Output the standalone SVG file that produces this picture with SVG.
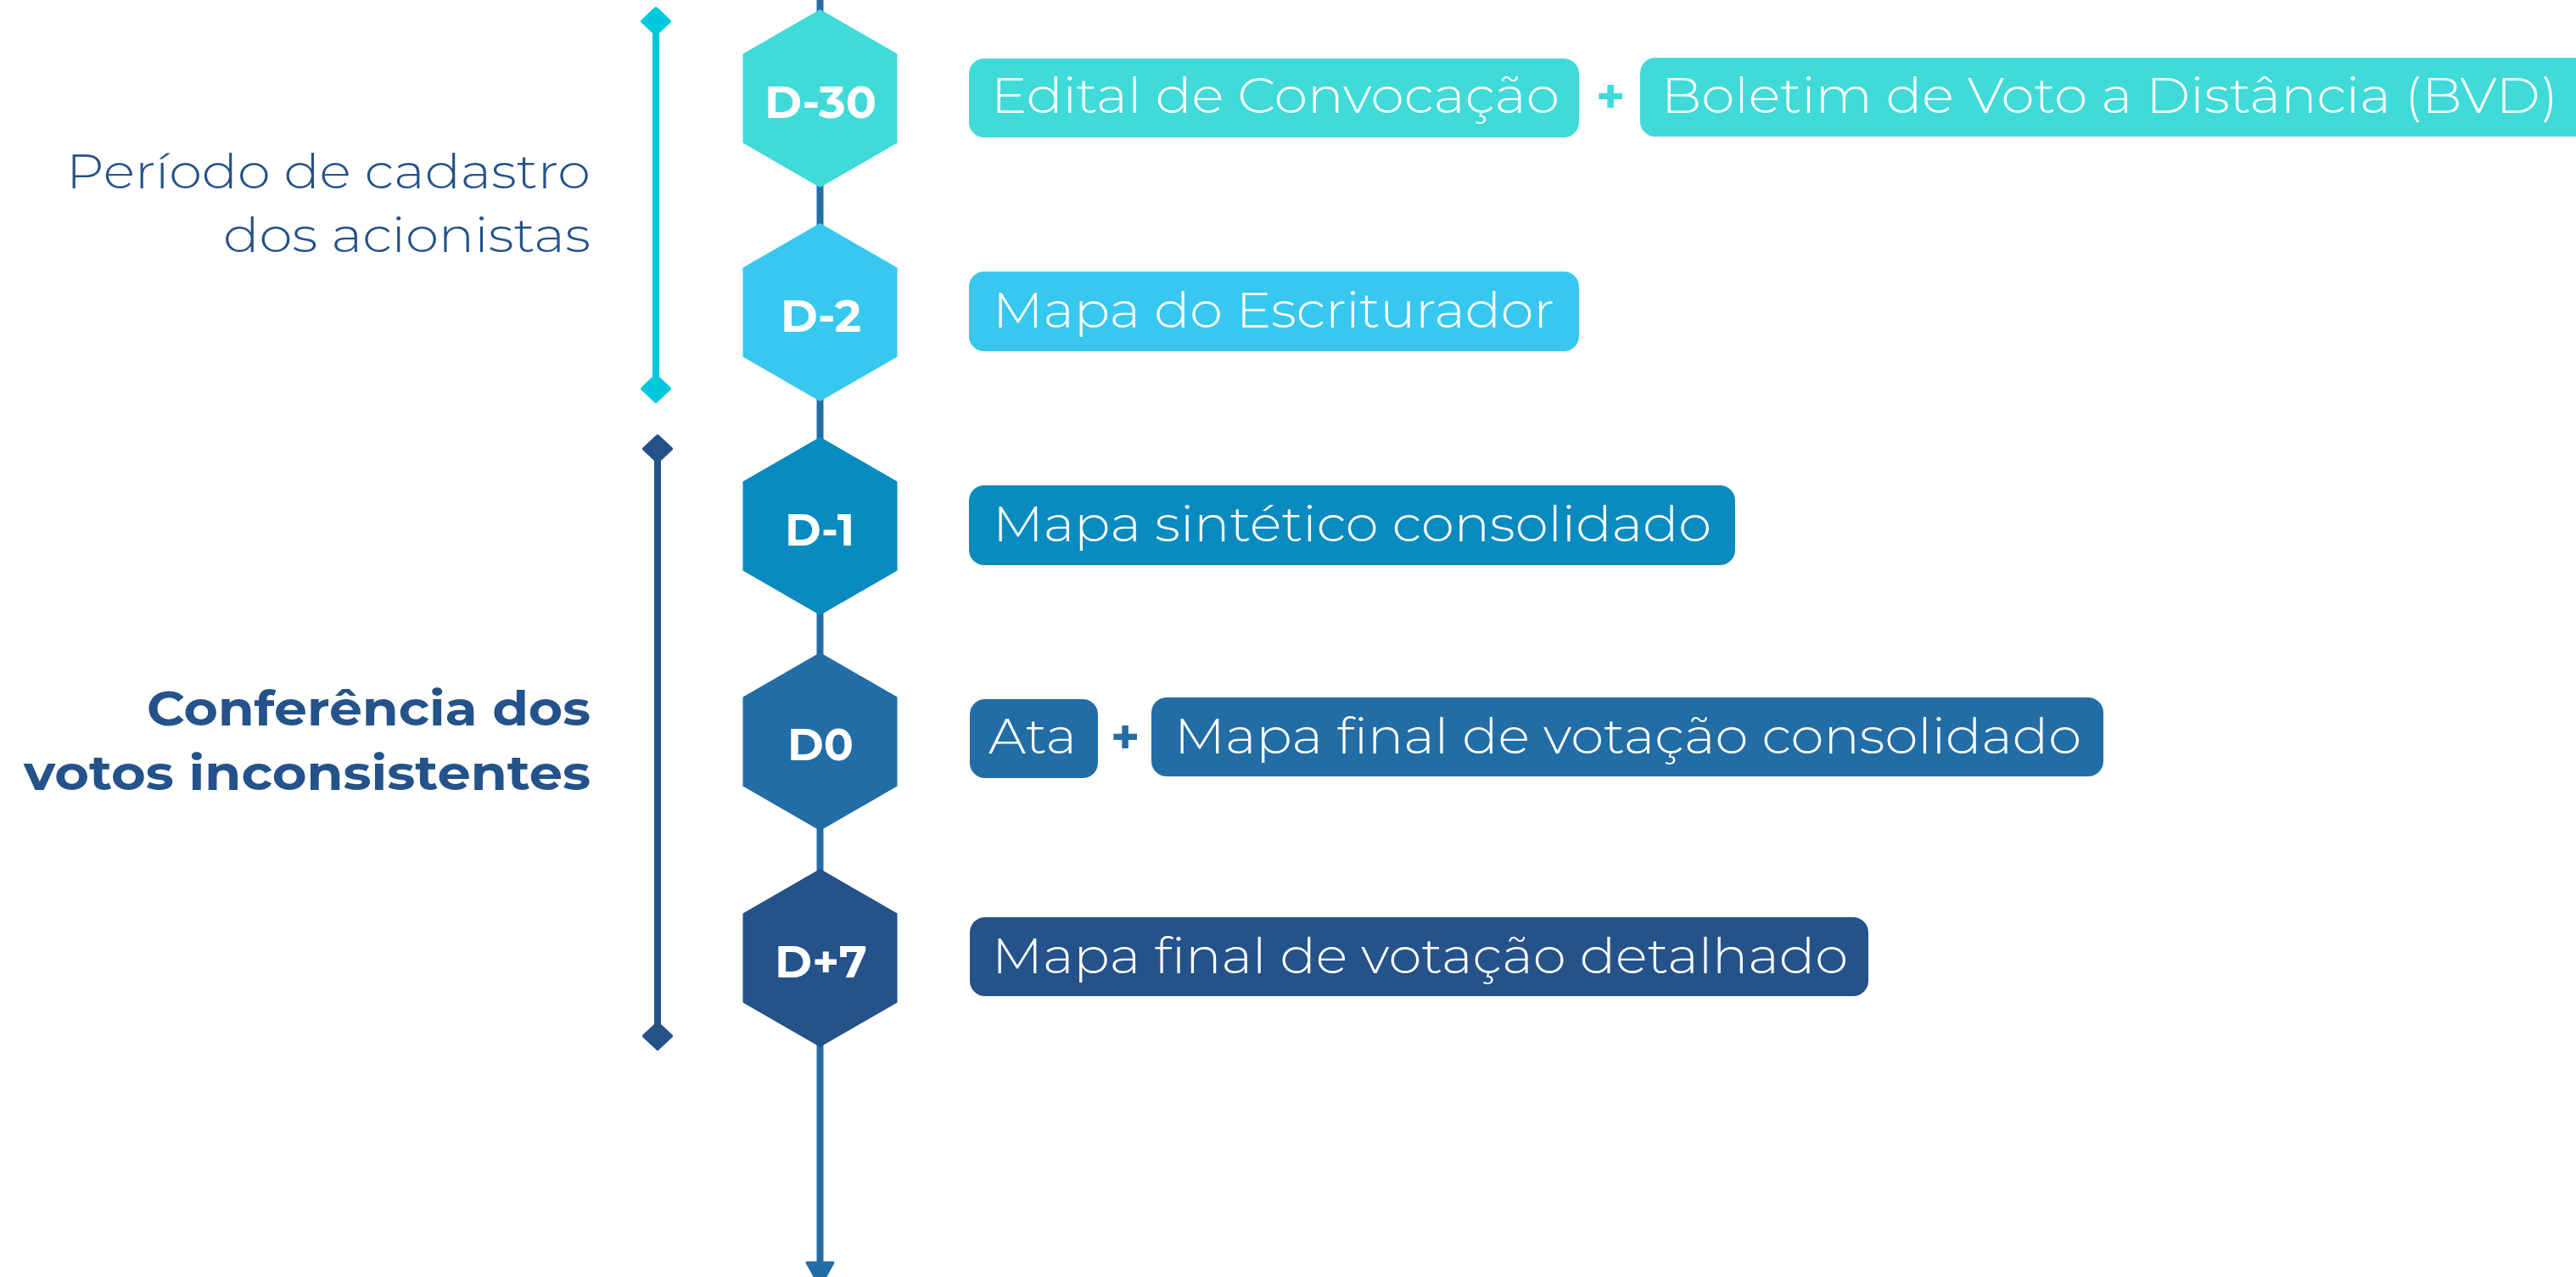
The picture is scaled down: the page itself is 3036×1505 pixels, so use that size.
<svg xmlns="http://www.w3.org/2000/svg" width="3036" height="1505" viewBox="0 0 3036 1505">
<style>
.lt{font-family:Montserrat,"Open Sans","Noto Sans",sans-serif;font-weight:300;font-size:58px;fill:#ffffff}
.side{font-family:Montserrat,"Open Sans","Noto Sans",sans-serif;font-size:57px;fill:#24528a}
.light{font-weight:300}
.bold{font-weight:700}
.hl{font-family:Montserrat,"Open Sans","Noto Sans",sans-serif;font-weight:700;font-size:53px;fill:#ffffff;text-anchor:middle}
.plus{font-family:Montserrat,"Open Sans","Noto Sans",sans-serif;font-weight:700;font-size:58px;text-anchor:middle}
.c1{fill:#40dbd8}.c2{fill:#38c8ef}.c3{fill:#0a8bbf}.c4{fill:#226da6}.c5{fill:#24528a}
</style>
<defs>
<polygon id="hex" points="0,-105 91,-52.5 91,52.5 0,105 -91,52.5 -91,-52.5"/>
<polygon id="dia" points="0,-15 16,0 0,15 -16,0" stroke-linejoin="round" stroke-width="4"/>
</defs>
<rect width="3036" height="1505" fill="#ffffff"/>
<g id="connectors">
<line x1="966.5" y1="0" x2="966.5" y2="1492" stroke="#226da6" stroke-width="8"/>
<polygon points="951,1488 982,1488 966.5,1516" fill="#226da6" stroke="#226da6" stroke-width="3" stroke-linejoin="round"/>
</g>
<g id="bracket-cadastro">
<line x1="773" y1="26" x2="773" y2="458" stroke="#00c9dd" stroke-width="8"/>
<use href="#dia" x="773" y="25" fill="#00c9dd" stroke="#00c9dd"/>
<use href="#dia" x="773" y="458" fill="#00c9dd" stroke="#00c9dd"/>
<text class="side light" x="696" y="222" text-anchor="end" textLength="618" lengthAdjust="spacingAndGlyphs">Período de cadastro</text>
<text class="side light" x="696" y="297" text-anchor="end" textLength="433" lengthAdjust="spacingAndGlyphs">dos acionistas</text>
</g>
<g id="bracket-conferencia">
<line x1="775" y1="529" x2="775" y2="1221" stroke="#24528a" stroke-width="8"/>
<use href="#dia" x="775" y="529" fill="#24528a" stroke="#24528a"/>
<use href="#dia" x="775" y="1221" fill="#24528a" stroke="#24528a"/>
<text class="side bold" x="696" y="855" text-anchor="end" textLength="523" lengthAdjust="spacingAndGlyphs">Conferência dos</text>
<text class="side bold" x="696" y="931" text-anchor="end" textLength="668" lengthAdjust="spacingAndGlyphs">votos inconsistentes</text>
</g>
<g id="node-d30">
<use href="#hex" x="966.5" y="116" class="c1"/>
<text class="hl" x="967" y="139" textLength="132" lengthAdjust="spacingAndGlyphs">D-30</text>
<rect x="1142" y="69" width="719" height="93" rx="18" class="c1"/>
<text class="lt" x="1168" y="133" textLength="670" lengthAdjust="spacingAndGlyphs">Edital de Convocação</text>
<text class="plus c1" x="1898" y="134">+</text>
<rect x="1933" y="68" width="1130" height="93" rx="18" class="c1"/>
<text class="lt" x="1958" y="133" textLength="1057" lengthAdjust="spacingAndGlyphs">Boletim de Voto a Distância (BVD)</text>
</g>
<g id="node-d2">
<use href="#hex" x="966.5" y="368" class="c2"/>
<text class="hl" x="967.5" y="391" textLength="95" lengthAdjust="spacingAndGlyphs">D-2</text>
<rect x="1142" y="320" width="719" height="94" rx="18" class="c2"/>
<text class="lt" x="1170" y="386" textLength="662" lengthAdjust="spacingAndGlyphs">Mapa do Escriturador</text>
</g>
<g id="node-d1">
<use href="#hex" x="966.5" y="620" class="c3"/>
<text class="hl" x="966" y="643" textLength="82" lengthAdjust="spacingAndGlyphs">D-1</text>
<rect x="1142" y="572" width="903" height="94" rx="18" class="c3"/>
<text class="lt" x="1170" y="638" textLength="847" lengthAdjust="spacingAndGlyphs">Mapa sintético consolidado</text>
</g>
<g id="node-d0">
<use href="#hex" x="966.5" y="874" class="c4"/>
<text class="hl" x="967" y="896" textLength="78" lengthAdjust="spacingAndGlyphs">D0</text>
<rect x="1143" y="824" width="151" height="93" rx="18" class="c4"/>
<text class="lt" x="1165" y="888" textLength="104" lengthAdjust="spacingAndGlyphs">Ata</text>
<text class="plus c4" x="1326" y="889">+</text>
<rect x="1357" y="822" width="1122" height="93" rx="18" class="c4"/>
<text class="lt" x="1384" y="888" textLength="1069" lengthAdjust="spacingAndGlyphs">Mapa final de votação consolidado</text>
</g>
<g id="node-d7">
<use href="#hex" x="966.5" y="1129" class="c5"/>
<text class="hl" x="967.5" y="1152" textLength="109" lengthAdjust="spacingAndGlyphs">D+7</text>
<rect x="1143" y="1081" width="1059" height="93" rx="18" class="c5"/>
<text class="lt" x="1169" y="1147" textLength="1009" lengthAdjust="spacingAndGlyphs">Mapa final de votação detalhado</text>
</g>
</svg>
